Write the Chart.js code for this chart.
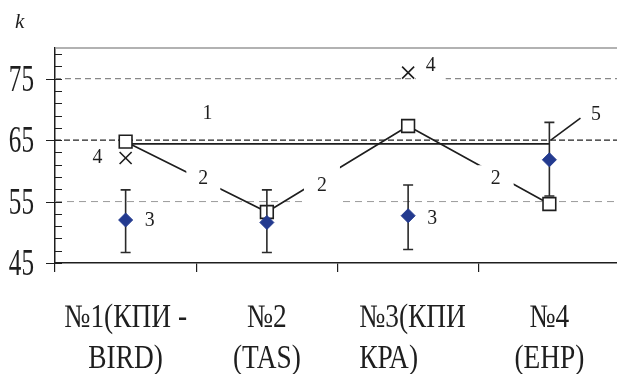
<!DOCTYPE html>
<html>
<head>
<meta charset="utf-8">
<script src="https://cdn.jsdelivr.net/npm/chart.js"></script>
<style>
  html, body { margin: 0; padding: 0; background: #fff; overflow: hidden; }
  #wrap { width: 620px; height: 374px; }
</style>
</head>
<body>
<div id="wrap"><canvas id="chart" width="620" height="374"></canvas></div>
<script>
// data
const categories = [["№1(КПИ -", "BIRD)"], ["№2", "(TAS)"], ["№3(КПИ", "КРА)"], ["№4", "(EHP)"]];
const line1 = [64.4, 64.4, 64.4, 64.4];
const line2 = [64.75, 53.3, 67.3, 54.6];
const means3 = [52.0, 51.6, 52.7, 61.8];
const errHigh3 = [56.9, 56.9, 57.7, 67.9];
const errLow3 = [46.7, 46.7, 47.2, 55.9];
const cross4 = [62.1, null, 76.0, null];
const yTicks = [45, 55, 65, 75];
const gridValues = [55, 65, 75];

// curve labels, in data units (x = category index)
const notes = [
  { t: "1", x: 0.58, y: 69.4, w: 26, h: 24 },
  { t: "2", x: 0.55, y: 58.8, w: 34, h: 26 },
  { t: "2", x: 1.39, y: 57.7, w: 36, h: 40 },
  { t: "2", x: 2.62, y: 58.8, w: 36, h: 26 },
  { t: "3", x: 0.17, y: 52.0, w: 26, h: 24 },
  { t: "3", x: 2.17, y: 52.3, w: 28, h: 24 },
  { t: "4", x: -0.20, y: 62.3, w: 26, h: 24 },
  { t: "4", x: 2.16, y: 77.2, w: 30, h: 32 },
  { t: "5", x: 3.33, y: 69.2, w: 26, h: 24 },
];
const leader5 = [[3.01, 65.0], [3.22, 68.6]];

const INK = "#1e1e1e";

function txt(ctx, s, x, y, size, sx, align, base, italic) {
  ctx.save();
  ctx.translate(x, y);
  ctx.scale(sx, 1);
  ctx.font = (italic ? "italic " : "") + size + 'px "Liberation Serif"';
  ctx.fillStyle = INK;
  ctx.textAlign = align;
  ctx.textBaseline = base;
  ctx.fillText(s, 0, 0);
  ctx.restore();
}

const gridStyle = {
  55: { color: "#9a9a9a", width: 1, dash: [7, 5] },
  65: { color: "#222", width: 1.2, dash: [6, 3] },
  75: { color: "#888", width: 1.2, dash: [6, 4] },
};

const decor = {
  id: "decor",
  beforeDatasetsDraw(chart) {
    const { ctx, chartArea: a, scales: { y } } = chart;
    gridValues.forEach(v => {
      const st = gridStyle[v];
      const py = y.getPixelForValue(v);
      ctx.save();
      ctx.strokeStyle = st.color;
      ctx.lineWidth = st.width;
      ctx.setLineDash(st.dash);
      ctx.beginPath();
      ctx.moveTo(a.left, py);
      ctx.lineTo(a.right, py);
      ctx.stroke();
      ctx.restore();
    });
    // y tick marks: small ones inside, long ones outside at labels
    ctx.save();
    ctx.strokeStyle = INK;
    ctx.lineWidth = 1.2;
    ctx.beginPath();
    for (let v = 45; v < 80; v += 2) {
      const py = Math.round(y.getPixelForValue(v)) + 0.5;
      ctx.moveTo(a.left, py);
      ctx.lineTo(a.left + 7, py);
    }
    yTicks.forEach(v => {
      const py = Math.round(y.getPixelForValue(v)) + 0.5;
      ctx.moveTo(a.left - 9, py);
      ctx.lineTo(a.left, py);
    });
    ctx.stroke();
    ctx.restore();
  },
  beforeDatasetDraw(chart, args) {
    if (args.index !== 2) return;
    const { ctx, scales: { x, y } } = chart;
    ctx.save();
    ctx.strokeStyle = "#2a2a2a";
    ctx.lineWidth = 1.6;
    ctx.beginPath();
    means3.forEach((m, i) => {
      const px = x.getPixelForValue(i);
      const hi = y.getPixelForValue(errHigh3[i]);
      const lo = y.getPixelForValue(errLow3[i]);
      ctx.moveTo(px, hi); ctx.lineTo(px, lo);
      ctx.moveTo(px - 5, hi); ctx.lineTo(px + 5, hi);
      ctx.moveTo(px - 5, lo); ctx.lineTo(px + 5, lo);
    });
    ctx.stroke();
    ctx.restore();
  },
  afterDatasetsDraw(chart) {
    const { ctx, chartArea: a, scales: { x, y } } = chart;
    notes.forEach(n => {
      const px = x.getPixelForValue(n.x), py = y.getPixelForValue(n.y);
      ctx.fillStyle = "#fff";
      ctx.fillRect(px - n.w / 2, py - n.h / 2, n.w, n.h);
      txt(ctx, n.t, px, py, 22, 0.9, "center", "middle");
    });
    // leader line for curve 5
    ctx.save();
    ctx.strokeStyle = INK;
    ctx.lineWidth = 1.6;
    ctx.beginPath();
    ctx.moveTo(x.getPixelForValue(leader5[0][0]), y.getPixelForValue(leader5[0][1]));
    ctx.lineTo(x.getPixelForValue(leader5[1][0]), y.getPixelForValue(leader5[1][1]));
    ctx.stroke();
    // top frame line
    ctx.strokeStyle = "#999";
    ctx.lineWidth = 1.5;
    ctx.beginPath();
    ctx.moveTo(a.left, a.top);
    ctx.lineTo(a.right, a.top);
    ctx.stroke();
    ctx.restore();
    // y tick labels
    yTicks.forEach(v => {
      txt(ctx, String(v), a.left - 21, y.getPixelForValue(v) + 12, 37, 0.68, "right", "alphabetic");
    });
    // category labels
    categories.forEach((lines, i) => {
      const cx = x.getPixelForValue(i);
      const left = i === 2;
      lines.forEach((s, k) => {
        txt(ctx, s, left ? cx - 49 : cx, a.bottom + 64 + k * 41, 33, 0.83, left ? "left" : "center", "alphabetic");
      });
    });
    txt(ctx, "k", 15, 28, 21, 1, "left", "alphabetic", true);
  }
};

new Chart(document.getElementById("chart"), {
  type: "line",
  data: {
    labels: categories.map(c => c.join(" ")),
    datasets: [
      { label: "1", data: line1, borderColor: INK, borderWidth: 1.8, pointRadius: 0, fill: false, order: 5 },
      { label: "2", data: line2, borderColor: INK, borderWidth: 1.6, pointStyle: "rect", pointRadius: 9,
        pointBackgroundColor: "#fff", pointBorderColor: INK, pointBorderWidth: 1.6, fill: false, order: 4 },
      { label: "3", data: means3, showLine: false, pointStyle: "rectRot", pointRadius: 7,
        pointBackgroundColor: "#233a8f", pointBorderColor: "#233a8f", pointBorderWidth: 1, order: 3 },
      { label: "4", data: cross4, showLine: false, pointStyle: "crossRot", pointRadius: 8.5,
        pointBorderColor: INK, pointBorderWidth: 1.6, order: 2 },
    ]
  },
  options: {
    responsive: false,
    animation: false,
    layout: { autoPadding: false, padding: { top: 48, left: 0, right: 0, bottom: 0 } },
    plugins: { legend: { display: false }, tooltip: { enabled: false } },
    scales: {
      x: {
        type: "category",
        offset: true,
        ticks: { display: false },
        grid: { display: true, offset: true, drawOnChartArea: false, drawTicks: true, tickLength: 9, color: INK, lineWidth: 1.2 },
        border: { display: true, color: INK, width: 1.5 },
        afterFit: s => { s.height = 111; }
      },
      y: {
        min: 45,
        max: 80,
        ticks: { display: false },
        grid: { display: false },
        border: { display: true, color: INK, width: 1.5 },
        afterFit: s => { s.width = 55; }
      }
    }
  },
  plugins: [decor]
});
</script>
</body>
</html>
